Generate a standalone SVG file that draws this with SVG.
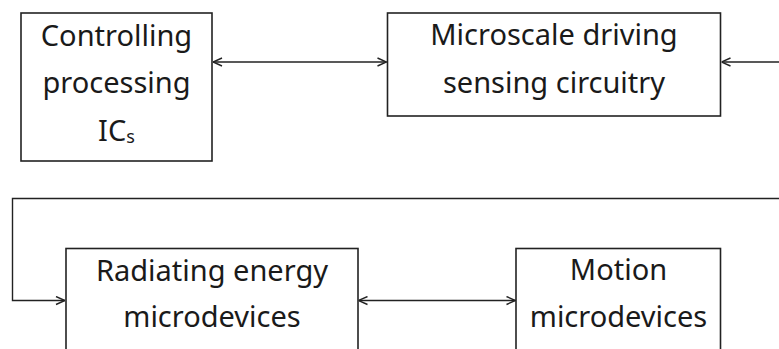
<svg xmlns="http://www.w3.org/2000/svg" width="779" height="349" viewBox="0 0 779 349">
<style>
.box{fill:#fff;stroke:#222;stroke-width:1.6}
.lbl{font-family:"Noto Sans","DejaVu Sans",sans-serif;font-size:29px;fill:#1a1a1a;text-anchor:middle}
.con{fill:none;stroke:#222;stroke-width:1.4}
</style>
<defs>
<marker id="ah" viewBox="0 0 10 10" refX="10" refY="5" markerWidth="10" markerHeight="10" markerUnits="userSpaceOnUse" orient="auto-start-reverse">
<path d="M1,1 L10,5 L1,9" fill="none" stroke="#222" stroke-width="1.4"/>
</marker>
</defs>
<g id="connectors">
<line class="con" x1="213" y1="62" x2="386.5" y2="62" marker-start="url(#ah)" marker-end="url(#ah)"/>
<line class="con" x1="780" y1="62" x2="721.5" y2="62" marker-end="url(#ah)"/>
<path class="con" d="M780,198.5 H12.5 V300.5 H65" marker-end="url(#ah)"/>
<line class="con" x1="358.5" y1="300.5" x2="515.5" y2="300.5" marker-start="url(#ah)" marker-end="url(#ah)"/>
</g>
<g id="controlling">
<rect class="box" x="21" y="13" width="191" height="148"/>
<text class="lbl" x="116.5" y="46">Controlling</text>
<text class="lbl" x="116.5" y="93">processing</text>
<text class="lbl" x="116.5" y="141">IC<tspan font-size="18" dy="2">s</tspan></text>
</g>
<g id="microscale">
<rect class="box" x="387.5" y="13" width="333" height="103"/>
<text class="lbl" x="554" y="45">Microscale driving</text>
<text class="lbl" x="554" y="93">sensing circuitry</text>
</g>
<g id="radiating">
<rect class="box" x="66" y="248.5" width="292" height="120"/>
<text class="lbl" x="212" y="281">Radiating energy</text>
<text class="lbl" x="212" y="327">microdevices</text>
</g>
<g id="motion">
<rect class="box" x="516" y="248.5" width="204.5" height="120"/>
<text class="lbl" x="618.5" y="280">Motion</text>
<text class="lbl" x="618.5" y="327">microdevices</text>
</g>
</svg>
